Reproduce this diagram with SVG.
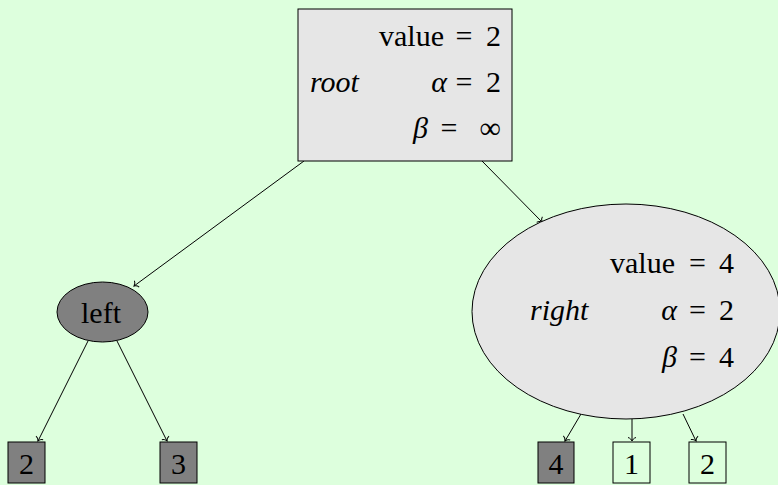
<svg xmlns="http://www.w3.org/2000/svg" width="778" height="485" viewBox="0 0 778 485" font-family="Liberation Serif, DejaVu Serif, serif" font-size="30">
<defs>
<style>
.it{font-style:italic}
.e{text-anchor:end}
.m{text-anchor:middle}
.conn{stroke:#000;stroke-width:1;fill:none;marker-end:url(#to)}
.node{stroke:#000;stroke-width:1}
.light{fill:#e6e6e6}
.dark{fill:#808080}
.open{fill:none}
</style>
<marker id="to" markerUnits="userSpaceOnUse" markerWidth="12" markerHeight="12" refX="0" refY="0" viewBox="-6 -6 12 12" orient="auto" overflow="visible">
<path d="M-3.5,-4 C-3,-1.8 -1,-0.4 0,0 C-1,0.4 -3,1.8 -3.5,4" fill="none" stroke="#000" stroke-width="1"/>
</marker>
</defs>
<rect x="0" y="0" width="778" height="485" fill="#ddffdd"/>
<g id="connectors">
<line class="conn" x1="304" y1="161" x2="134" y2="286"/>
<line class="conn" x1="482" y1="161" x2="542" y2="222"/>
<line class="conn" x1="88" y1="341" x2="38" y2="441"/>
<line class="conn" x1="117" y1="341" x2="167" y2="441"/>
<line class="conn" x1="581" y1="414" x2="565" y2="441"/>
<line class="conn" x1="632" y1="419" x2="632" y2="441"/>
<line class="conn" x1="683" y1="414" x2="696" y2="441"/>
</g>
<g id="root">
<rect class="node light" x="298" y="9" width="214" height="152"/>
<text x="444" y="46" class="e">value</text>
<text x="464" y="46" class="m">=</text>
<text x="501" y="46" class="e">2</text>
<text x="310" y="92" class="it">root</text>
<text x="447" y="92" class="e it">α</text>
<text x="464" y="92" class="m">=</text>
<text x="501" y="92" class="e">2</text>
<text x="428" y="138" class="e it">β</text>
<text x="449" y="138" class="m">=</text>
<text x="501" y="138" class="e">∞</text>
</g>
<g id="left">
<ellipse class="node dark" cx="102.5" cy="312" rx="45.5" ry="30"/>
<text x="101" y="323" class="m">left</text>
</g>
<g id="right">
<ellipse class="node light" cx="626" cy="311.5" rx="154" ry="107.5"/>
<text x="675" y="273" class="e">value</text>
<text x="697.5" y="273" class="m">=</text>
<text x="734" y="273" class="e">4</text>
<text x="530" y="320" class="it">right</text>
<text x="677" y="320" class="e it">α</text>
<text x="697.5" y="320" class="m">=</text>
<text x="734" y="320" class="e">2</text>
<text x="677" y="367" class="e it">β</text>
<text x="697.5" y="367" class="m">=</text>
<text x="734" y="367" class="e">4</text>
</g>
<g id="leaf-left-2">
<rect class="node dark" x="8" y="442" width="37" height="41"/>
<text x="26.5" y="474" class="m">2</text>
</g>
<g id="leaf-left-3">
<rect class="node dark" x="160" y="442" width="37" height="41"/>
<text x="178.5" y="474" class="m">3</text>
</g>
<g id="leaf-right-4">
<rect class="node dark" x="538" y="442" width="36" height="41"/>
<text x="556" y="474" class="m">4</text>
</g>
<g id="leaf-right-1">
<rect class="node open" x="613" y="442" width="37" height="41"/>
<text x="631.5" y="474" class="m">1</text>
</g>
<g id="leaf-right-2">
<rect class="node open" x="689" y="442" width="37" height="41"/>
<text x="707.5" y="474" class="m">2</text>
</g>
</svg>
